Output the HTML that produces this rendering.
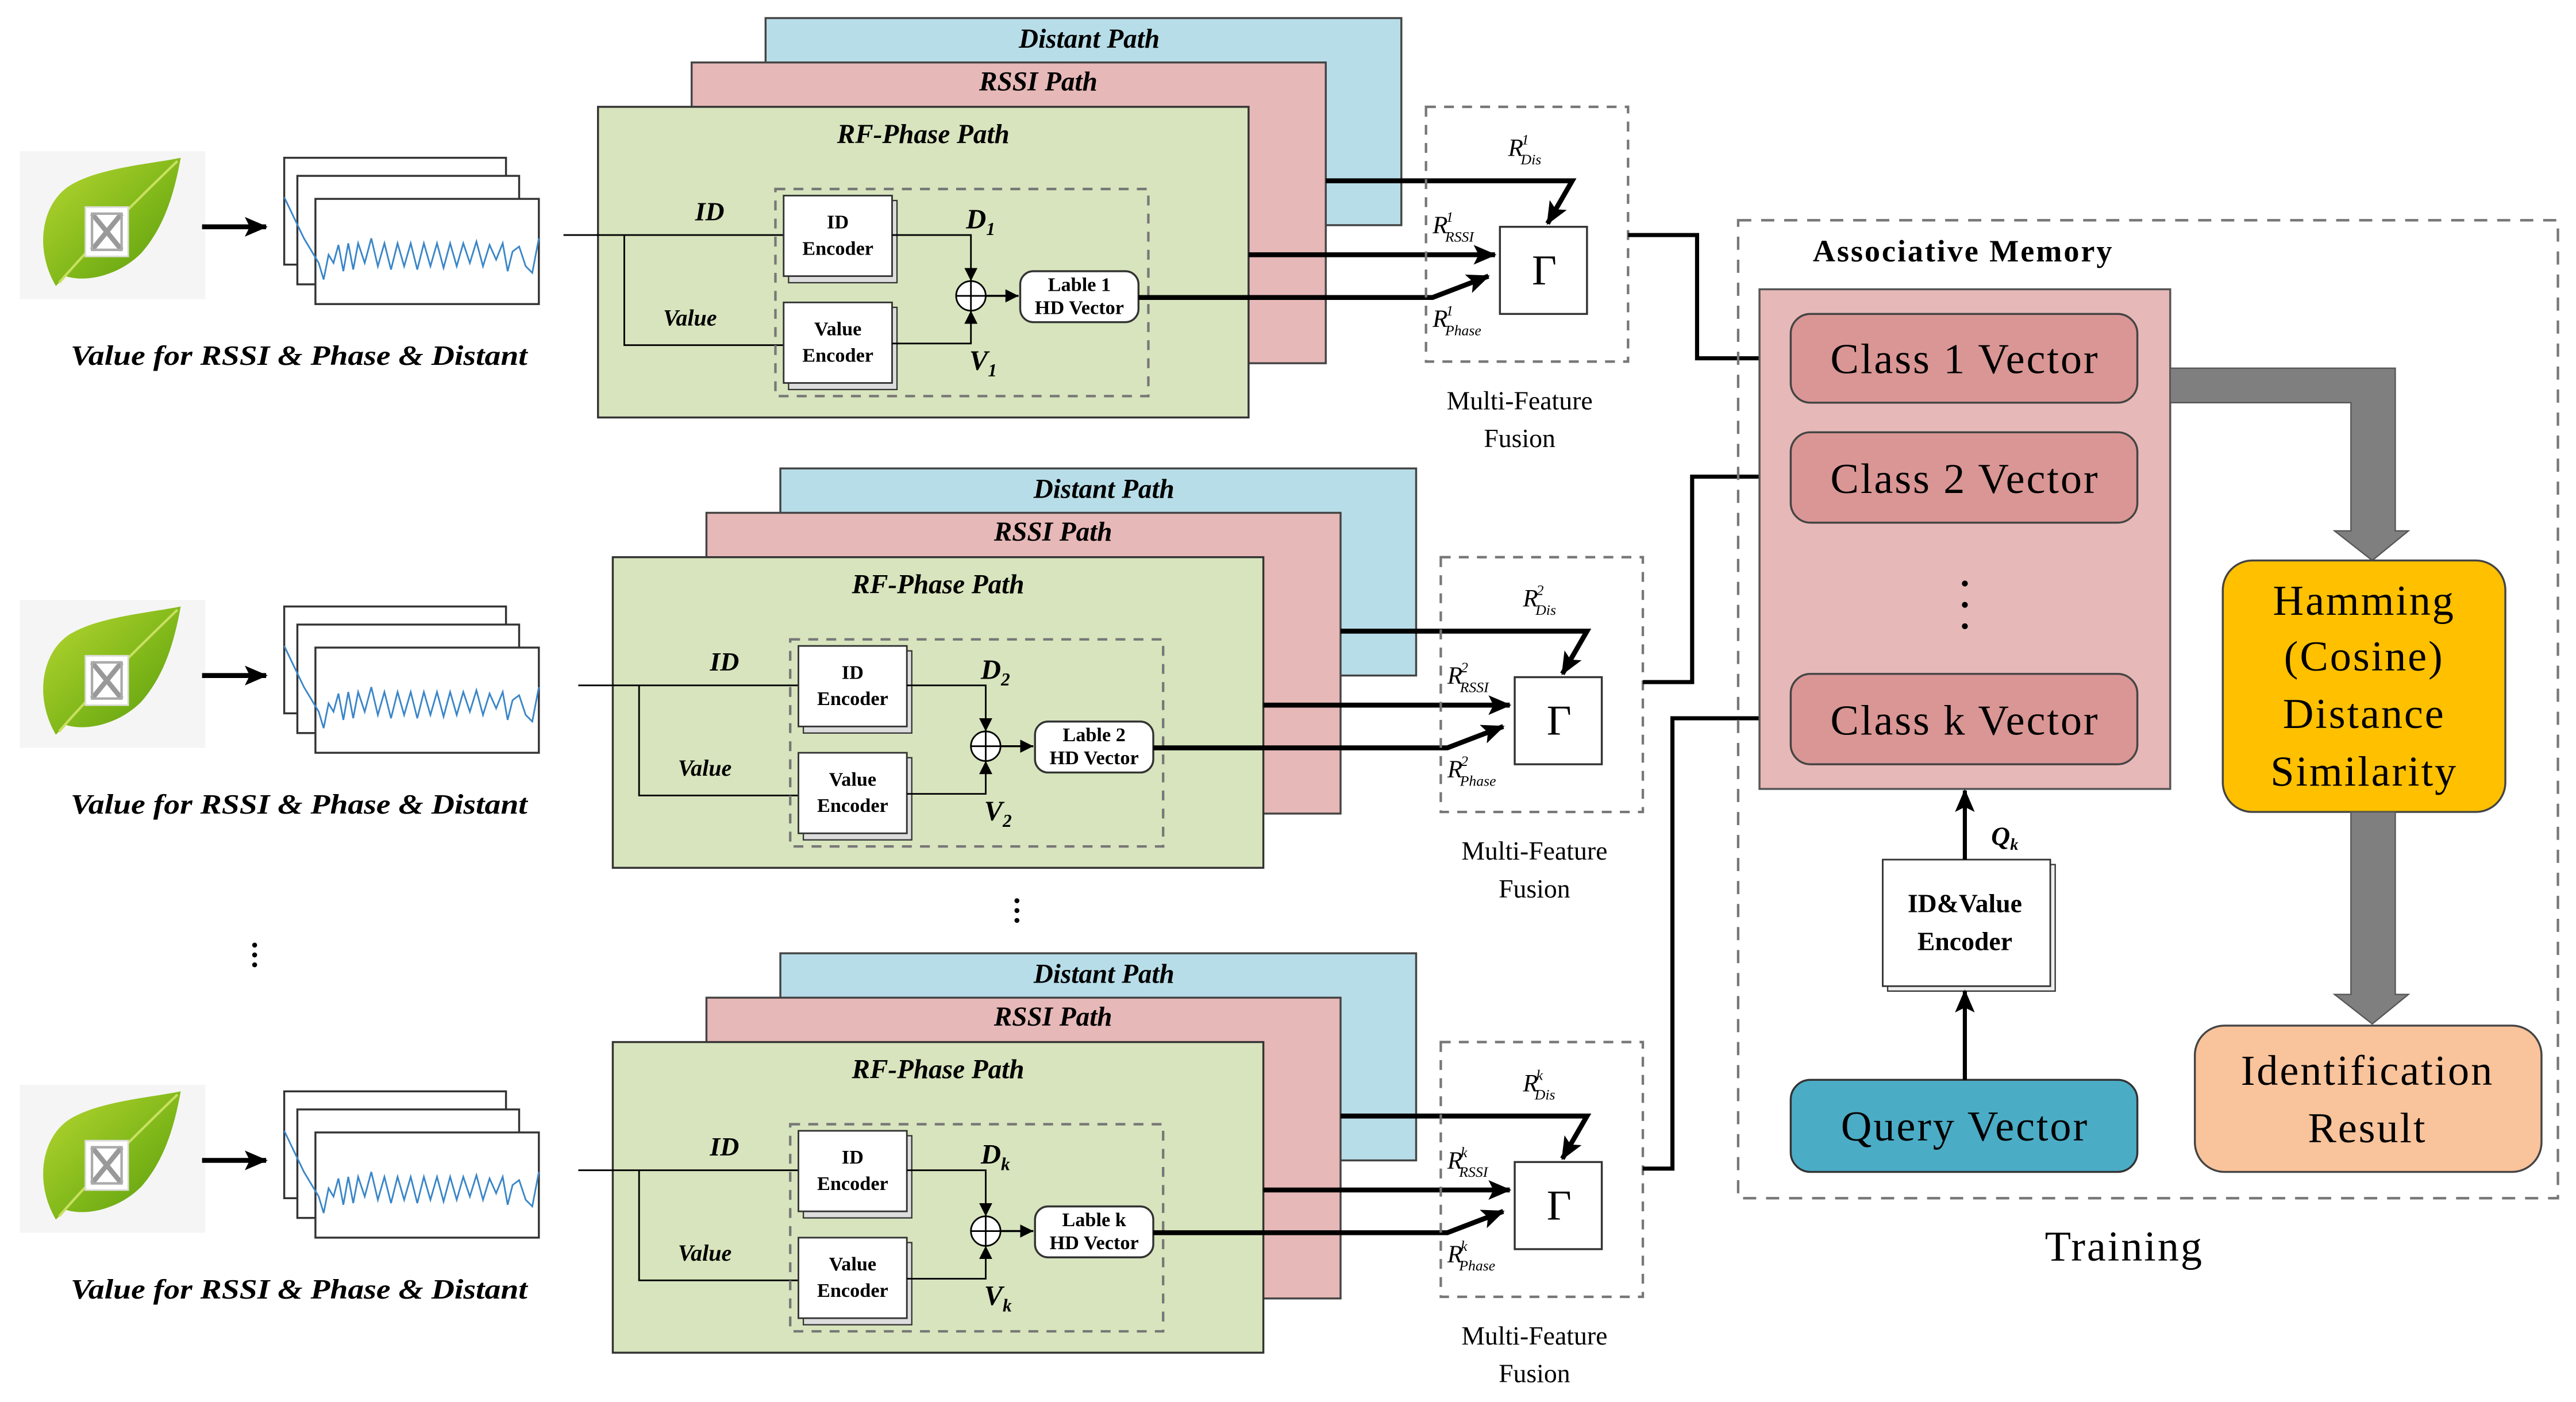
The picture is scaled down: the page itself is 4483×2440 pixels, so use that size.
<!DOCTYPE html>
<html><head><meta charset="utf-8"><style>html,body{margin:0;padding:0;background:#fff}svg{display:block}svg text{font-family:"Liberation Serif","DejaVu Serif",serif}.big{letter-spacing:1px}</style></head>
<body>
<svg xmlns="http://www.w3.org/2000/svg" width="4483" height="2440" viewBox="0 0 1568 853" preserveAspectRatio="none">
<defs>
<marker id="a" markerUnits="userSpaceOnUse" markerWidth="14" markerHeight="12" refX="13" refY="6" orient="auto"><path d="M0,0 L14,6 L0,12 L3,6 Z" fill="#000"/></marker>
<marker id="s" markerUnits="userSpaceOnUse" markerWidth="8" markerHeight="8" refX="8" refY="4" orient="auto"><path d="M0,0 L8,4 L0,8 Z" fill="#000"/></marker>
<linearGradient id="lg" x1="0" y1="0" x2="1" y2="1"><stop offset="0" stop-color="#b8d832"/><stop offset="0.6" stop-color="#7cb518"/><stop offset="1" stop-color="#5a9a10"/></linearGradient>
<g id="leaf">
<rect x="12" y="92" width="113" height="90" fill="#f5f5f5"/>
<path d="M34,174 C20,150 26,122 44,112 C62,102 90,100 110,96 C106,118 100,138 86,154 C72,168 52,172 40,168 Z" fill="url(#lg)"/>
<path d="M36,172 C55,150 80,125 108,98" stroke="#c8e060" stroke-width="1.5" fill="none"/>
<rect x="52" y="126" width="26" height="30" fill="#fff" stroke="#ddd"/>
<path d="M56,130 L74,152 M74,130 L56,152" stroke="#999" stroke-width="3"/>
<rect x="56" y="130" width="18" height="22" fill="none" stroke="#aaa" stroke-width="1.5"/>
<path d="M123,138 H162" stroke="#000" stroke-width="3" marker-end="url(#a)"/>
<rect x="173" y="96" width="135" height="65" fill="#fff" stroke="#333" stroke-width="1.2"/>
<rect x="181" y="107" width="135" height="66" fill="#fff" stroke="#333" stroke-width="1.2"/>
<rect x="192" y="121" width="136" height="64" fill="#fff" stroke="#333" stroke-width="1.2"/>
<path d="M173,120 L185,145 L194,160 L197,170 L200,155 L203,160 L206,149 L209,165 L212,148 L215,164 L218,148 L222,160 L226,145 L230,162 L234,148 L238,164 L242,148 L246,162 L250,148 L254,164 L258,148 L262,162 L266,148 L270,163 L274,148 L278,162 L282,148 L286,160 L290,147 L294,162 L298,149 L302,158 L306,148 L309,165 L312,153 L316,150 L320,162 L324,166 L328,145" fill="none" stroke="#3a86c8" stroke-width="1"/>
<text x="182" y="222" font-size="17" font-weight="bold" font-style="italic" text-anchor="middle" textLength="278" lengthAdjust="spacingAndGlyphs">Value for RSSI &amp; Phase &amp; Distant</text>
</g>
</defs>

<use href="#leaf"/>
<use href="#leaf" y="273"/>
<use href="#leaf" y="568"/>

<g id="r1">
<rect x="466" y="11" width="387" height="126" fill="#b7dde8" stroke="#444" stroke-width="1.2"/>
<text x="663" y="29" font-size="16.5" font-weight="bold" font-style="italic" text-anchor="middle">Distant Path</text>
<rect x="421" y="38" width="386" height="183" fill="#e6b8b7" stroke="#444" stroke-width="1.2"/>
<text x="632" y="55" font-size="16.5" font-weight="bold" font-style="italic" text-anchor="middle">RSSI Path</text>
<rect x="364" y="65" width="396" height="189" fill="#d7e4bd" stroke="#333" stroke-width="1.2"/>
<text x="562" y="87" font-size="16.5" font-weight="bold" font-style="italic" text-anchor="middle">RF-Phase Path</text>
<path d="M343,143 H477 M380,143 V210 H477" fill="none" stroke="#000" stroke-width="1"/>
<text x="432" y="134" font-size="16" font-weight="bold" font-style="italic" text-anchor="middle">ID</text>
<text x="420" y="198" font-size="14" font-weight="bold" font-style="italic" text-anchor="middle">Value</text>
<rect x="472" y="115" width="227" height="126" fill="none" stroke="#777" stroke-width="1.5" stroke-dasharray="6,5"/>
<rect x="480" y="122" width="66" height="50" fill="#ddd" stroke="#333" stroke-width="0.8"/>
<rect x="477" y="119" width="66" height="49" fill="#fff" stroke="#333" stroke-width="1"/>
<text x="510" y="139" font-size="12" font-weight="bold" text-anchor="middle">ID</text>
<text x="510" y="155" font-size="12" font-weight="bold" text-anchor="middle">Encoder</text>
<rect x="480" y="187" width="66" height="50" fill="#ddd" stroke="#333" stroke-width="0.8"/>
<rect x="477" y="184" width="66" height="49" fill="#fff" stroke="#333" stroke-width="1"/>
<text x="510" y="204" font-size="12" font-weight="bold" text-anchor="middle">Value</text>
<text x="510" y="220" font-size="12" font-weight="bold" text-anchor="middle">Encoder</text>
<path d="M543,143 H591 V171" fill="none" stroke="#000" stroke-width="1" marker-end="url(#s)"/>
<path d="M543,209 H591 V189" fill="none" stroke="#000" stroke-width="1" marker-end="url(#s)"/>
<circle cx="591" cy="180" r="9" fill="#fff" stroke="#000" stroke-width="1"/>
<path d="M582,180 H600 M591,171 V189" stroke="#000" stroke-width="1"/>
<path d="M600,180 H620" stroke="#000" stroke-width="1.2" marker-end="url(#s)"/>
<rect x="621" y="165" width="72" height="31" rx="8" fill="#fff" stroke="#333" stroke-width="1.2"/>
<text x="657" y="177" font-size="12" font-weight="bold" text-anchor="middle">Lable 1</text>
<text x="657" y="191" font-size="12" font-weight="bold" text-anchor="middle">HD Vector</text>
<text x="588" y="139" font-size="17" font-weight="bold" font-style="italic">D<tspan font-size="11" dy="4">1</tspan></text>
<text x="590" y="225" font-size="17" font-weight="bold" font-style="italic">V<tspan font-size="11" dy="4">1</tspan></text>
<path d="M693,181 H872 L906,168" fill="none" stroke="#000" stroke-width="3" marker-end="url(#a)"/>
<path d="M760,155 H910" fill="none" stroke="#000" stroke-width="3" marker-end="url(#a)"/>
<path d="M807,110 H957 L942,136" fill="none" stroke="#000" stroke-width="3" marker-end="url(#a)"/>
<rect x="868" y="65" width="123" height="155" fill="none" stroke="#777" stroke-width="1.5" stroke-dasharray="6,5"/>
<rect x="913" y="138" width="53" height="53" fill="#fff" stroke="#333" stroke-width="1.2"/>
<text x="940" y="173" font-size="26" text-anchor="middle">Γ</text>
<text x="918" y="95" font-size="15" font-style="italic">R<tspan font-size="9" dy="-7" dx="-1">1</tspan><tspan font-size="9" dy="12" dx="-5">Dis</tspan></text>
<text x="872" y="142" font-size="15" font-style="italic">R<tspan font-size="9" dy="-7" dx="-1">1</tspan><tspan font-size="9" dy="12" dx="-5">RSSI</tspan></text>
<text x="872" y="199" font-size="15" font-style="italic">R<tspan font-size="9" dy="-7" dx="-1">1</tspan><tspan font-size="9" dy="12" dx="-5">Phase</tspan></text>
<text x="925" y="249" font-size="16" text-anchor="middle">Multi-Feature</text>
<text x="925" y="272" font-size="16" text-anchor="middle">Fusion</text>
</g>

<g transform="translate(9,274)">
<rect x="466" y="11" width="387" height="126" fill="#b7dde8" stroke="#444" stroke-width="1.2"/>
<text x="663" y="29" font-size="16.5" font-weight="bold" font-style="italic" text-anchor="middle">Distant Path</text>
<rect x="421" y="38" width="386" height="183" fill="#e6b8b7" stroke="#444" stroke-width="1.2"/>
<text x="632" y="55" font-size="16.5" font-weight="bold" font-style="italic" text-anchor="middle">RSSI Path</text>
<rect x="364" y="65" width="396" height="189" fill="#d7e4bd" stroke="#333" stroke-width="1.2"/>
<text x="562" y="87" font-size="16.5" font-weight="bold" font-style="italic" text-anchor="middle">RF-Phase Path</text>
<path d="M343,143 H477 M380,143 V210 H477" fill="none" stroke="#000" stroke-width="1"/>
<text x="432" y="134" font-size="16" font-weight="bold" font-style="italic" text-anchor="middle">ID</text>
<text x="420" y="198" font-size="14" font-weight="bold" font-style="italic" text-anchor="middle">Value</text>
<rect x="472" y="115" width="227" height="126" fill="none" stroke="#777" stroke-width="1.5" stroke-dasharray="6,5"/>
<rect x="480" y="122" width="66" height="50" fill="#ddd" stroke="#333" stroke-width="0.8"/>
<rect x="477" y="119" width="66" height="49" fill="#fff" stroke="#333" stroke-width="1"/>
<text x="510" y="139" font-size="12" font-weight="bold" text-anchor="middle">ID</text>
<text x="510" y="155" font-size="12" font-weight="bold" text-anchor="middle">Encoder</text>
<rect x="480" y="187" width="66" height="50" fill="#ddd" stroke="#333" stroke-width="0.8"/>
<rect x="477" y="184" width="66" height="49" fill="#fff" stroke="#333" stroke-width="1"/>
<text x="510" y="204" font-size="12" font-weight="bold" text-anchor="middle">Value</text>
<text x="510" y="220" font-size="12" font-weight="bold" text-anchor="middle">Encoder</text>
<path d="M543,143 H591 V171" fill="none" stroke="#000" stroke-width="1" marker-end="url(#s)"/>
<path d="M543,209 H591 V189" fill="none" stroke="#000" stroke-width="1" marker-end="url(#s)"/>
<circle cx="591" cy="180" r="9" fill="#fff" stroke="#000" stroke-width="1"/>
<path d="M582,180 H600 M591,171 V189" stroke="#000" stroke-width="1"/>
<path d="M600,180 H620" stroke="#000" stroke-width="1.2" marker-end="url(#s)"/>
<rect x="621" y="165" width="72" height="31" rx="8" fill="#fff" stroke="#333" stroke-width="1.2"/>
<text x="657" y="177" font-size="12" font-weight="bold" text-anchor="middle">Lable 2</text>
<text x="657" y="191" font-size="12" font-weight="bold" text-anchor="middle">HD Vector</text>
<text x="588" y="139" font-size="17" font-weight="bold" font-style="italic">D<tspan font-size="11" dy="4">2</tspan></text>
<text x="590" y="225" font-size="17" font-weight="bold" font-style="italic">V<tspan font-size="11" dy="4">2</tspan></text>
<path d="M693,181 H872 L906,168" fill="none" stroke="#000" stroke-width="3" marker-end="url(#a)"/>
<path d="M760,155 H910" fill="none" stroke="#000" stroke-width="3" marker-end="url(#a)"/>
<path d="M807,110 H957 L942,136" fill="none" stroke="#000" stroke-width="3" marker-end="url(#a)"/>
<rect x="868" y="65" width="123" height="155" fill="none" stroke="#777" stroke-width="1.5" stroke-dasharray="6,5"/>
<rect x="913" y="138" width="53" height="53" fill="#fff" stroke="#333" stroke-width="1.2"/>
<text x="940" y="173" font-size="26" text-anchor="middle">Γ</text>
<text x="918" y="95" font-size="15" font-style="italic">R<tspan font-size="9" dy="-7" dx="-1">2</tspan><tspan font-size="9" dy="12" dx="-5">Dis</tspan></text>
<text x="872" y="142" font-size="15" font-style="italic">R<tspan font-size="9" dy="-7" dx="-1">2</tspan><tspan font-size="9" dy="12" dx="-5">RSSI</tspan></text>
<text x="872" y="199" font-size="15" font-style="italic">R<tspan font-size="9" dy="-7" dx="-1">2</tspan><tspan font-size="9" dy="12" dx="-5">Phase</tspan></text>
<text x="925" y="249" font-size="16" text-anchor="middle">Multi-Feature</text>
<text x="925" y="272" font-size="16" text-anchor="middle">Fusion</text>
</g>

<g transform="translate(9,569)">
<rect x="466" y="11" width="387" height="126" fill="#b7dde8" stroke="#444" stroke-width="1.2"/>
<text x="663" y="29" font-size="16.5" font-weight="bold" font-style="italic" text-anchor="middle">Distant Path</text>
<rect x="421" y="38" width="386" height="183" fill="#e6b8b7" stroke="#444" stroke-width="1.2"/>
<text x="632" y="55" font-size="16.5" font-weight="bold" font-style="italic" text-anchor="middle">RSSI Path</text>
<rect x="364" y="65" width="396" height="189" fill="#d7e4bd" stroke="#333" stroke-width="1.2"/>
<text x="562" y="87" font-size="16.5" font-weight="bold" font-style="italic" text-anchor="middle">RF-Phase Path</text>
<path d="M343,143 H477 M380,143 V210 H477" fill="none" stroke="#000" stroke-width="1"/>
<text x="432" y="134" font-size="16" font-weight="bold" font-style="italic" text-anchor="middle">ID</text>
<text x="420" y="198" font-size="14" font-weight="bold" font-style="italic" text-anchor="middle">Value</text>
<rect x="472" y="115" width="227" height="126" fill="none" stroke="#777" stroke-width="1.5" stroke-dasharray="6,5"/>
<rect x="480" y="122" width="66" height="50" fill="#ddd" stroke="#333" stroke-width="0.8"/>
<rect x="477" y="119" width="66" height="49" fill="#fff" stroke="#333" stroke-width="1"/>
<text x="510" y="139" font-size="12" font-weight="bold" text-anchor="middle">ID</text>
<text x="510" y="155" font-size="12" font-weight="bold" text-anchor="middle">Encoder</text>
<rect x="480" y="187" width="66" height="50" fill="#ddd" stroke="#333" stroke-width="0.8"/>
<rect x="477" y="184" width="66" height="49" fill="#fff" stroke="#333" stroke-width="1"/>
<text x="510" y="204" font-size="12" font-weight="bold" text-anchor="middle">Value</text>
<text x="510" y="220" font-size="12" font-weight="bold" text-anchor="middle">Encoder</text>
<path d="M543,143 H591 V171" fill="none" stroke="#000" stroke-width="1" marker-end="url(#s)"/>
<path d="M543,209 H591 V189" fill="none" stroke="#000" stroke-width="1" marker-end="url(#s)"/>
<circle cx="591" cy="180" r="9" fill="#fff" stroke="#000" stroke-width="1"/>
<path d="M582,180 H600 M591,171 V189" stroke="#000" stroke-width="1"/>
<path d="M600,180 H620" stroke="#000" stroke-width="1.2" marker-end="url(#s)"/>
<rect x="621" y="165" width="72" height="31" rx="8" fill="#fff" stroke="#333" stroke-width="1.2"/>
<text x="657" y="177" font-size="12" font-weight="bold" text-anchor="middle">Lable k</text>
<text x="657" y="191" font-size="12" font-weight="bold" text-anchor="middle">HD Vector</text>
<text x="588" y="139" font-size="17" font-weight="bold" font-style="italic">D<tspan font-size="11" dy="4">k</tspan></text>
<text x="590" y="225" font-size="17" font-weight="bold" font-style="italic">V<tspan font-size="11" dy="4">k</tspan></text>
<path d="M693,181 H872 L906,168" fill="none" stroke="#000" stroke-width="3" marker-end="url(#a)"/>
<path d="M760,155 H910" fill="none" stroke="#000" stroke-width="3" marker-end="url(#a)"/>
<path d="M807,110 H957 L942,136" fill="none" stroke="#000" stroke-width="3" marker-end="url(#a)"/>
<rect x="868" y="65" width="123" height="155" fill="none" stroke="#777" stroke-width="1.5" stroke-dasharray="6,5"/>
<rect x="913" y="138" width="53" height="53" fill="#fff" stroke="#333" stroke-width="1.2"/>
<text x="940" y="173" font-size="26" text-anchor="middle">Γ</text>
<text x="918" y="95" font-size="15" font-style="italic">R<tspan font-size="9" dy="-7" dx="-1">k</tspan><tspan font-size="9" dy="12" dx="-5">Dis</tspan></text>
<text x="872" y="142" font-size="15" font-style="italic">R<tspan font-size="9" dy="-7" dx="-1">k</tspan><tspan font-size="9" dy="12" dx="-5">RSSI</tspan></text>
<text x="872" y="199" font-size="15" font-style="italic">R<tspan font-size="9" dy="-7" dx="-1">k</tspan><tspan font-size="9" dy="12" dx="-5">Phase</tspan></text>
<text x="925" y="249" font-size="16" text-anchor="middle">Multi-Feature</text>
<text x="925" y="272" font-size="16" text-anchor="middle">Fusion</text>
</g>

<g fill="#000"><circle cx="155" cy="575" r="1.5"/><circle cx="155" cy="581" r="1.5"/><circle cx="155" cy="587" r="1.5"/>
<circle cx="619" cy="548" r="1.5"/><circle cx="619" cy="554" r="1.5"/><circle cx="619" cy="560" r="1.5"/></g>

<path d="M991,143 H1033 V218 H1090" fill="none" stroke="#000" stroke-width="2.5"/>
<path d="M1000,415 H1030 V290 H1090" fill="none" stroke="#000" stroke-width="2.5"/>
<path d="M1000,711 H1018 V437 H1090" fill="none" stroke="#000" stroke-width="2.5"/>

<rect x="1058" y="134" width="499" height="595" fill="none" stroke="#777" stroke-width="1.5" stroke-dasharray="8,6"/>
<text x="1195" y="159" font-size="19" font-weight="bold" text-anchor="middle" class="big">Associative Memory</text>
<rect x="1071" y="176" width="250" height="304" fill="#e6b8b7" stroke="#555" stroke-width="1.2"/>
<rect x="1090" y="191" width="211" height="54" rx="12" fill="#d99694" stroke="#444" stroke-width="1.2"/>
<text x="1196" y="227" font-size="26" text-anchor="middle" class="big">Class 1 Vector</text>
<rect x="1090" y="263" width="211" height="55" rx="12" fill="#d99694" stroke="#444" stroke-width="1.2"/>
<text x="1196" y="300" font-size="26" text-anchor="middle" class="big">Class 2 Vector</text>
<g fill="#000"><circle cx="1196" cy="355" r="1.8"/><circle cx="1196" cy="368" r="1.8"/><circle cx="1196" cy="381" r="1.8"/></g>
<rect x="1090" y="410" width="211" height="55" rx="12" fill="#d99694" stroke="#444" stroke-width="1.2"/>
<text x="1196" y="447" font-size="26" text-anchor="middle" class="big">Class k Vector</text>

<path d="M1321,224 H1458 V323 H1466 L1444,341 L1421,323 H1431 V245 H1321 Z" fill="#7f7f7f" stroke="#555" stroke-width="0.8"/>
<rect x="1353" y="341" width="172" height="153" rx="18" fill="#ffc000" stroke="#444" stroke-width="1.2"/>
<text x="1439" y="374" font-size="26" text-anchor="middle" class="big">Hamming</text>
<text x="1439" y="408" font-size="26" text-anchor="middle" class="big">(Cosine)</text>
<text x="1439" y="443" font-size="26" text-anchor="middle" class="big">Distance</text>
<text x="1439" y="478" font-size="26" text-anchor="middle" class="big">Similarity</text>
<path d="M1431,494 H1458 V605 H1466 L1444,623 L1421,605 H1431 Z" fill="#7f7f7f" stroke="#555" stroke-width="0.8"/>
<rect x="1336" y="624" width="211" height="89" rx="18" fill="#f9c39b" stroke="#444" stroke-width="1.2"/>
<text x="1441" y="660" font-size="26" text-anchor="middle" class="big">Identification</text>
<text x="1441" y="695" font-size="26" text-anchor="middle" class="big">Result</text>

<rect x="1090" y="657" width="211" height="56" rx="12" fill="#4bacc6" stroke="#333" stroke-width="1.2"/>
<text x="1196" y="694" font-size="26" text-anchor="middle" class="big">Query Vector</text>
<rect x="1149" y="526" width="102" height="77" fill="#eee" stroke="#333" stroke-width="0.8"/>
<rect x="1146" y="523" width="102" height="77" fill="#fff" stroke="#333" stroke-width="1"/>
<text x="1196" y="555" font-size="16" font-weight="bold" text-anchor="middle">ID&amp;Value</text>
<text x="1196" y="578" font-size="16" font-weight="bold" text-anchor="middle">Encoder</text>
<path d="M1196,657 V603" stroke="#000" stroke-width="2.5" marker-end="url(#a)"/>
<path d="M1196,523 V481" stroke="#000" stroke-width="2.5" marker-end="url(#a)"/>
<text x="1212" y="514" font-size="16" font-weight="bold" font-style="italic">Q<tspan font-size="10" dy="3">k</tspan></text>
<text x="1293" y="767" font-size="26" text-anchor="middle" class="big">Training</text>
</svg>
</body></html>
